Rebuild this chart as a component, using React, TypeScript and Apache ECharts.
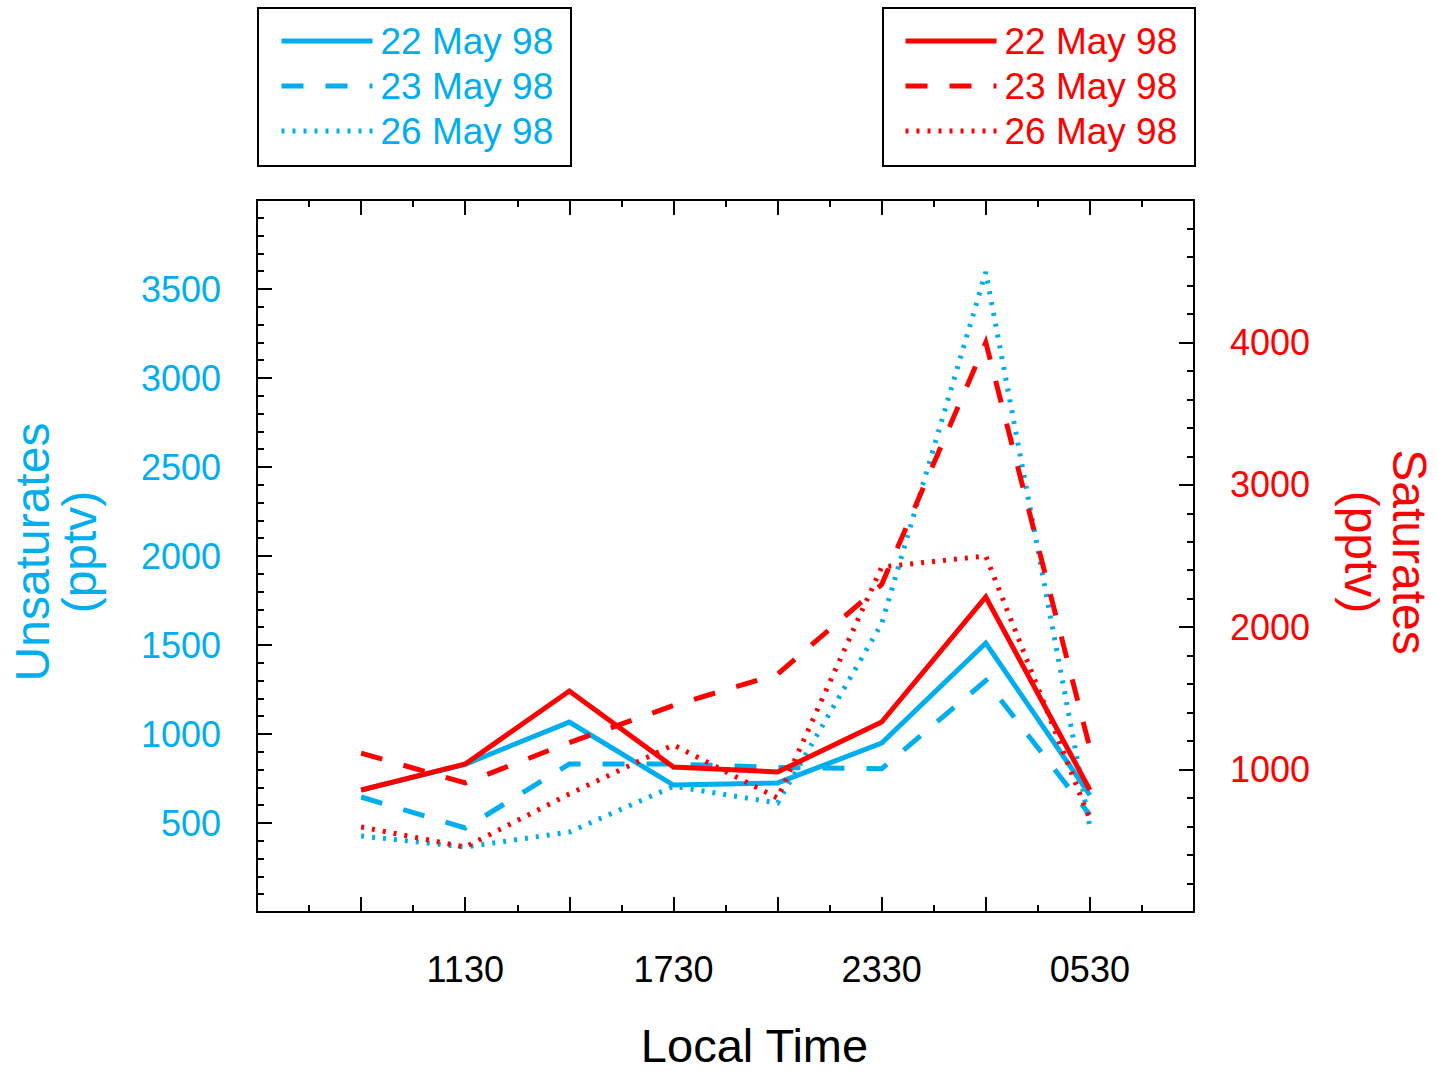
import React, { useEffect, useRef } from "react";
import * as echarts from "echarts";

const timeLabels = ["0830", "1130", "1430", "1730", "2030", "2330", "0230", "0530"];
const dateLabels = ["22 May 98", "23 May 98", "26 May 98"];

// Unsaturates (pptv), left axis
const unsat22 = [685, 830, 1067, 713, 725, 949, 1511, 657];
const unsat23 = [646, 472, 831, 831, 812, 805, 1300, 545];
const unsat26 = [427, 365, 449, 706, 612, 1620, 3596, 478];

// Saturates (pptv), right axis
const sat22 = [857, 1039, 1552, 1018, 983, 1334, 2212, 857];
const sat23 = [1116, 906, 1190, 1450, 1670, 2300, 4000, 1150];
const sat26 = [597, 456, 829, 1173, 800, 2423, 2500, 650];

const BLUE = "#00AEEF";
const RED = "#FF0000";
const FONT = "Liberation Sans";

const toPairs = (arr: number[]) => arr.map((v, i) => [i + 1, v]);

export default function App() {
  const ref = useRef<HTMLDivElement>(null);
  useEffect(() => {
    if (!ref.current) return;
    const chart = echarts.init(ref.current, undefined, { renderer: "svg" });
    const nameMap: Record<string, string> = {
      u22: dateLabels[0], u23: dateLabels[1], u26: dateLabels[2],
      s22: dateLabels[0], s23: dateLabels[1], s26: dateLabels[2],
    };
    const dash = [22, 22];
    const dot = [3, 8];
    const mk = (name: string, data: number[], color: string, type: any, yIdx: number) => ({
      name,
      type: "line",
      yAxisIndex: yIdx,
      data: toPairs(data),
      symbol: "none",
      itemStyle: { color },
      lineStyle: { color, width: 5, type, cap: "butt", join: "miter" },
      z: yIdx === 1 ? 3 : 2,
    });
    const xCommon = {
      type: "value",
      min: 0,
      max: 9,
      interval: 1,
      splitLine: { show: false },
      minorSplitLine: { show: false },
      axisLine: { show: true, onZero: false, lineStyle: { color: "#000", width: 2 } },
      axisTick: { show: true, inside: true, length: 15, lineStyle: { color: "#000", width: 2 } },
      minorTick: { show: true, splitNumber: 2, length: 7, lineStyle: { color: "#000", width: 2 } },
    };
    const legendCommon = (left: number, data: string[], color: string) => ({
      orient: "vertical",
      left,
      top: 21,
      padding: 0,
      itemWidth: 91,
      itemHeight: 14,
      itemGap: 5,
      selectedMode: false,
      data,
      formatter: (n: string) => nameMap[n],
      lineStyle: { width: 5 },
      itemStyle: { opacity: 0 },
      textStyle: { color, fontSize: 37, fontFamily: FONT, lineHeight: 40, padding: [0, 0, 0, 3] },
    });
    const plain = (v: number) => String(v);
    chart.setOption({
      animation: false,
      backgroundColor: "#fff",
      textStyle: { fontFamily: FONT },
      grid: { left: 257, top: 200, right: 244, bottom: 159, containLabel: false, outerBoundsMode: "none" },
      legend: [
        legendCommon(279, ["u22", "u23", "u26"], BLUE),
        legendCommon(903, ["s22", "s23", "s26"], RED),
      ],
      graphic: [
        { type: "rect", shape: { x: 258, y: 8, width: 313, height: 158 }, style: { fill: "none", stroke: "#000", lineWidth: 2 } },
        { type: "rect", shape: { x: 883, y: 8, width: 312, height: 158 }, style: { fill: "none", stroke: "#000", lineWidth: 2 } },
      ],
      xAxis: [
        {
          ...xCommon,
          position: "bottom",
          name: "Local Time",
          nameLocation: "middle",
          nameGap: 110,
          nameTextStyle: { color: "#000", fontSize: 47, fontFamily: FONT, padding: [0, 0, 0, 58] },
          axisLabel: {
            show: true,
            margin: 39,
            color: "#000",
            fontSize: 36,
            fontFamily: FONT,
            formatter: (v: number) => (v >= 1 && v <= 8 && v % 2 === 0 ? timeLabels[v - 1] : ""),
          },
        },
        { ...xCommon, position: "top", axisLabel: { show: false } },
      ],
      yAxis: [
        {
          type: "value",
          position: "left",
          min: 0,
          max: 4000,
          interval: 500,
          name: "Unsaturates\n(pptv)",
          nameLocation: "middle",
          nameRotate: 90,
          nameGap: 154,
          nameTextStyle: { color: BLUE, fontSize: 48, fontFamily: FONT, lineHeight: 47, padding: [0, 0, 0, 8] },
          splitLine: { show: false },
          minorSplitLine: { show: false },
          axisLine: { show: true, onZero: false, lineStyle: { color: "#000", width: 2 } },
          axisTick: { show: true, inside: true, length: 15, lineStyle: { color: "#000", width: 2 } },
          minorTick: { show: true, splitNumber: 5, length: 7, lineStyle: { color: "#000", width: 2 } },
          axisLabel: { color: BLUE, fontSize: 36, fontFamily: FONT, margin: 36, showMinLabel: false, showMaxLabel: false, formatter: plain },
        },
        {
          type: "value",
          position: "right",
          min: 0,
          max: 5000,
          interval: 1000,
          name: "Saturates\n(pptv)",
          nameLocation: "middle",
          nameRotate: -90,
          nameGap: 143,
          nameTextStyle: { color: RED, fontSize: 48, fontFamily: FONT, lineHeight: 48, padding: [0, 8, 0, 0] },
          splitLine: { show: false },
          minorSplitLine: { show: false },
          axisLine: { show: true, onZero: false, lineStyle: { color: "#000", width: 2 } },
          axisTick: { show: true, inside: true, length: 15, lineStyle: { color: "#000", width: 2 } },
          minorTick: { show: true, splitNumber: 5, length: 7, lineStyle: { color: "#000", width: 2 } },
          axisLabel: { color: RED, fontSize: 36, fontFamily: FONT, margin: 36, showMinLabel: false, showMaxLabel: false, formatter: plain },
        },
      ],
      series: [
        mk("u22", unsat22, BLUE, "solid", 0),
        mk("u23", unsat23, BLUE, dash, 0),
        mk("u26", unsat26, BLUE, dot, 0),
        mk("s22", sat22, RED, "solid", 1),
        mk("s23", sat23, RED, dash, 1),
        mk("s26", sat26, RED, dot, 1),
      ],
    });
    return () => chart.dispose();
  }, []);
  return (
    <div
      ref={ref}
      style={{ position: "fixed", left: 0, top: 0, width: 1438, height: 1071, background: "#fff" }}
    />
  );
}
